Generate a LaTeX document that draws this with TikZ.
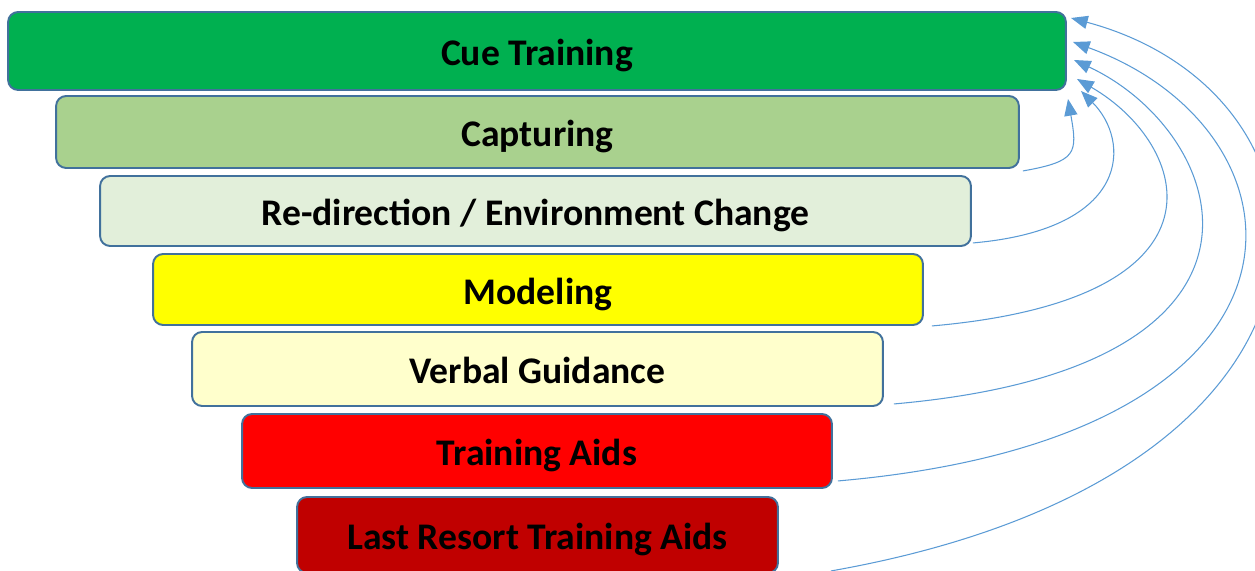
\documentclass[tikz,border=0pt]{standalone}
\usepackage{fontspec}
\setmainfont{Carlito}
\usepackage{xcolor}
\definecolor{CueGreen}{RGB}{0,176,80}
\definecolor{CaptureGreen}{RGB}{169,209,142}
\definecolor{RedirectGreen}{RGB}{226,239,218}
\definecolor{ModelYellow}{RGB}{255,255,0}
\definecolor{VerbalYellow}{RGB}{255,255,204}
\definecolor{AidsRed}{RGB}{255,0,0}
\definecolor{LastRed}{RGB}{192,0,0}
\definecolor{TierBorder}{RGB}{65,113,156}
\definecolor{LinkBlue}{RGB}{91,155,213}
\usepackage{tikz}
\usetikzlibrary{
  arrows.meta
}
\tikzset{
  % Stacked tier box
  tier/.style={
    rectangle,
    rounded corners=0.2cm,
    draw=TierBorder,
    line width=1.1pt,
    inner sep=0pt,
    text height=17pt,
    text depth=0pt,
    font=\fontsize{21.4}{24}\selectfont\bfseries
  },
  % Return arrow
  link/.style={
    draw=LinkBlue,
    line width=0.6pt,
    -{Triangle[length=9.5pt,width=7.5pt]}
  }
}

\begin{document}
\begin{tikzpicture}[x=0.02cm, y=0.02cm]
  \useasboundingbox (0,0) rectangle (1255,571);
  % Tiers, top to bottom
  \node[tier, fill=CueGreen, minimum width=21.16cm, minimum height=1.56cm] (cue) at (537,520) {Cue Training};
  \node[tier, fill=CaptureGreen, minimum width=19.26cm, minimum height=1.44cm] (cap) at (537.5,439) {Capturing};
  \node[tier, fill=RedirectGreen, minimum width=17.42cm, minimum height=1.4cm] (redir) at (535.5,360) {Re-direction / Environment Change};
  \node[tier, fill=ModelYellow, minimum width=15.4cm, minimum height=1.42cm] (model) at (538,281.5) {Modeling};
  \node[tier, fill=VerbalYellow, minimum width=13.82cm, minimum height=1.48cm] (verbal) at (537.5,202) {Verbal Guidance};
  \node[tier, fill=AidsRed, minimum width=11.8cm, minimum height=1.48cm] (aids) at (537,120) {Training Aids};
  \node[tier, fill=LastRed, minimum width=9.62cm, minimum height=1.52cm] (last) at (537.5,36) {Last Resort Training Aids};
  % Arrow tips beside the top tier
  \coordinate (tip1) at (1068,472);
  \coordinate (tip2) at (1081,480);
  \coordinate (tip3) at (1077,492);
  \coordinate (tip4) at (1074,511);
  \coordinate (tip5) at (1073,529);
  \coordinate (tip6) at (1071,553);
  % Curved links back up to the top tier
  \foreach \src/\sx/\sy/\tip/\o/\i/\da/\db in {
    cap/3/-2/tip1/10/-80/1.1cm/1.1cm,
    redir/1/4/tip2/5/-45/3.2cm/1.4cm,
    model/8/0/tip3/5/-30/6.2cm/2.6cm,
    verbal/10/3/tip4/5/-25/8.4cm/3.4cm,
    aids/5/8/tip5/5/-20/10.2cm/5.2cm,
    last/52/3/tip6/10/-15/11.2cm/6cm} {
    \draw[link] ([shift={(\sx,\sy)}]\src.south east)
      to[out=\o, in=\i, out distance=\da, in distance=\db] (\tip);
  }
\end{tikzpicture}
\end{document}
